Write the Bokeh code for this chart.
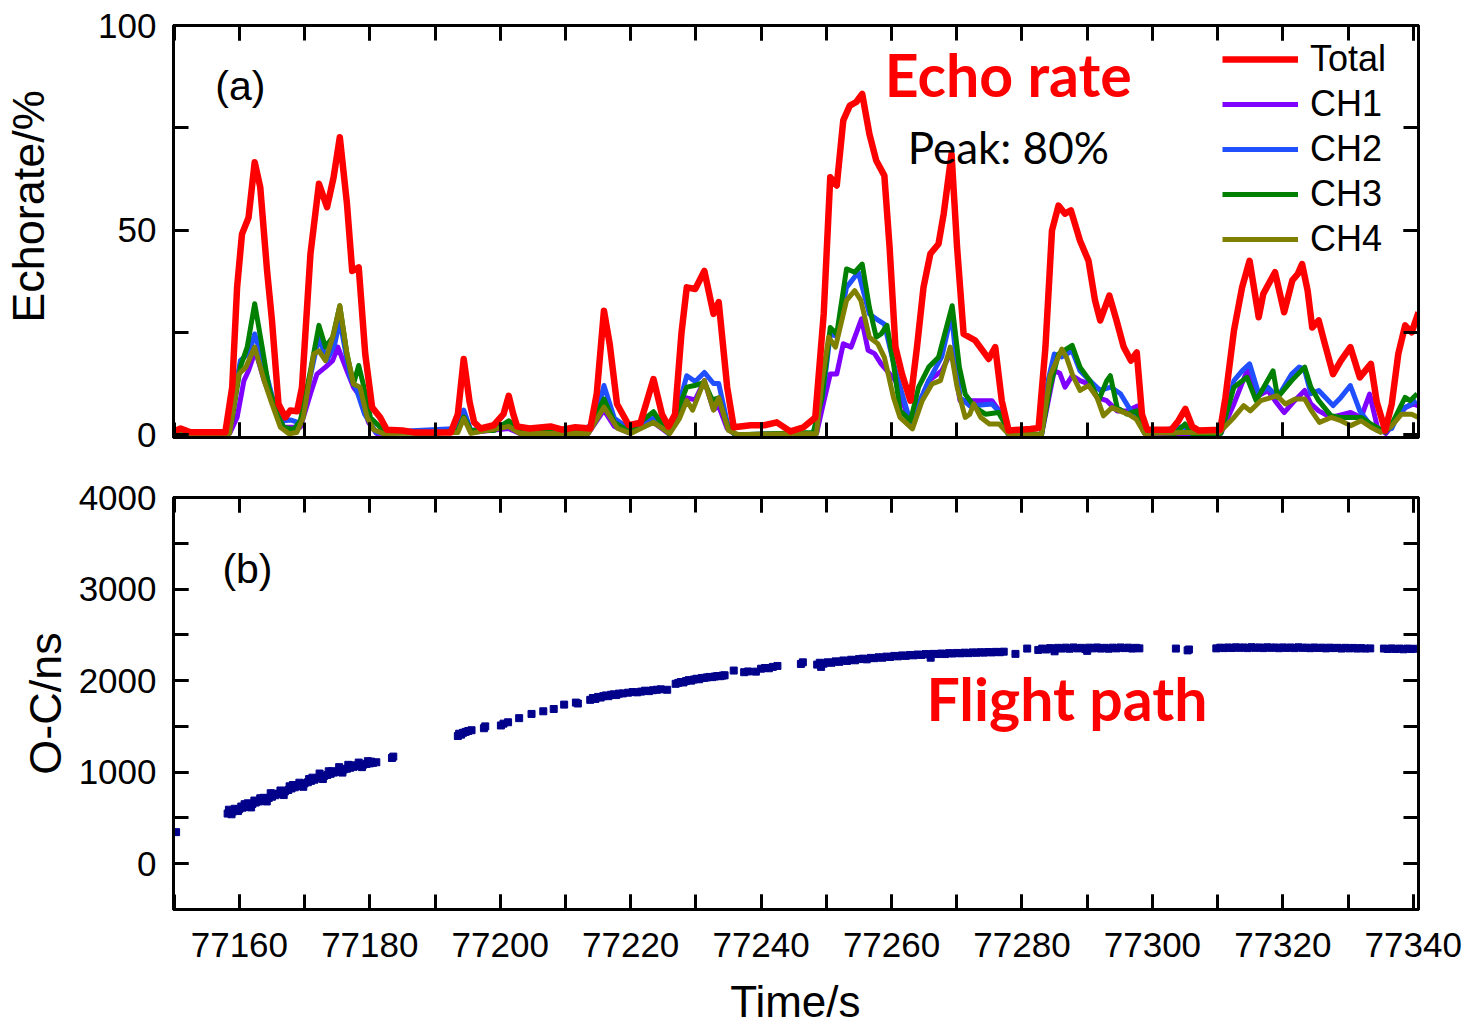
from bokeh.plotting import figure
from bokeh.models import (Range1d, LinearAxis, SingleIntervalTicker, Label, Legend, LegendItem,
                          CustomJSTickFormatter)
from bokeh.layouts import column
from bokeh.embed import file_html
from bokeh.resources import INLINE

# ---------------- data ----------------
# (time [s], echo rate [%]) pairs for each curve of panel (a)
total_pts = [
    (77150.0, 0.8), (77151.0, 1.5), (77152.5, 0.6), (77157.85, 0.6), (77158.9, 11.6), (77159.65, 36),
    (77160.4, 49), (77161.4, 53), (77162.35, 66.6), (77163.2, 60.5), (77164.25, 40), (77165.0, 27.9),
    (77166.0, 7.5), (77167.05, 4.2), (77167.8, 5.9), (77168.85, 5.7), (77169.6, 11.6), (77170.9, 44.2),
    (77172.2, 61.3), (77173.45, 55.6), (77174.45, 62.9), (77175.4, 72.7), (77176.5, 56.4), (77177.3, 40),
    (77178.3, 40.9), (77179.3, 19.7), (77180.35, 6.7), (77181.6, 4.2), (77182.6, 1.2), (77185.0, 1),
    (77187.0, 0.5), (77192.4, 0.5), (77193.5, 5), (77194.4, 18.5), (77195.3, 8), (77196.0, 3),
    (77197.0, 1.5), (77199.0, 2.3), (77200.5, 5), (77201.3, 9.5), (77202.0, 5), (77202.6, 2),
    (77204.5, 1.5), (77207.7, 2), (77209.5, 1.2), (77211.5, 1.8), (77213.8, 1.5), (77214.8, 10),
    (77215.9, 30.3), (77216.8, 22), (77217.9, 7.5), (77219.7, 2.3), (77221.5, 2.9), (77223.5, 13.6),
    (77224.8, 5), (77225.8, 2), (77226.8, 5), (77227.8, 25), (77228.6, 36), (77229.9, 35.6),
    (77231.3, 40), (77232.7, 29.5), (77233.5, 32.4), (77234.8, 11.6), (77235.8, 1.8), (77238.4, 2.3),
    (77240.5, 2.3), (77242.4, 3), (77244.5, 0.8), (77246.5, 1.8), (77248.3, 4.2), (77249.6, 29.5),
    (77250.6, 62.9), (77251.6, 60.9), (77252.6, 76.8), (77253.6, 80.4), (77254.6, 81.3), (77255.5, 83.3),
    (77256.6, 73.5), (77257.65, 67), (77258.9, 63.3), (77259.7, 45.8), (77260.6, 21.4), (77261.6, 14.8),
    (77262.9, 8.3), (77263.9, 21.4), (77264.9, 36), (77265.95, 44.2), (77267.2, 46.6), (77268.0, 54),
    (77269.2, 68.6), (77270.05, 45.8), (77271.05, 24.6), (77272.85, 23), (77274.9, 18.5), (77275.9, 21.4),
    (77276.9, 8.3), (77277.95, 1), (77281.3, 1.4), (77282.55, 1.6), (77283.6, 21.4), (77284.6, 49.9),
    (77285.6, 56), (77286.6, 54), (77287.5, 54.8), (77288.9, 47.4), (77290.2, 42.5), (77291.2, 32.8),
    (77292.0, 27.9), (77293.4, 34), (77294.5, 27.9), (77295.6, 21.4), (77296.7, 18.1), (77297.6, 20.1),
    (77298.4, 5), (77299.2, 1.2), (77302.9, 1.2), (77304.0, 3.4), (77305.05, 6.3), (77306.1, 2),
    (77307.1, 1), (77310.4, 1.2), (77311.2, 9.1), (77312.5, 25.4), (77313.75, 36), (77314.9, 42.5),
    (77316.3, 28.7), (77317.0, 34.4), (77318.8, 39.7), (77320.2, 29.9), (77321.45, 37.7), (77322.3, 39.3),
    (77322.95, 41.7), (77323.8, 35.2), (77324.5, 26.2), (77325.5, 27.9), (77326.3, 23), (77327.7, 14.8),
    (77328.9, 18.1), (77330.35, 21.4), (77331.8, 14), (77333.5, 17.3), (77334.4, 8), (77335.7, 1),
    (77336.7, 7.5), (77337.7, 19.7), (77338.75, 26.7), (77339.75, 25), (77340.8, 29.9)]

ch1_pts = [
    (77150, 0), (77158.5, 0.3), (77159.65, 4.2), (77160.7, 13.2), (77161.4, 15.6), (77162.45, 20.5),
    (77163.8, 13.2), (77165.2, 7.5), (77166.8, 1.8), (77169.35, 1.8), (77170.9, 10), (77171.9, 14.8),
    (77173.2, 16.5), (77174.3, 18.1), (77175.1, 21.4), (77176.5, 15.6), (77177.5, 11.6), (77178.6, 9.2),
    (77179.8, 3), (77181, 0.3), (77193.5, 1), (77194.4, 5), (77195.5, 0.5), (77201.3, 1.5),
    (77203, 0.3), (77213.5, 0.3), (77215.9, 6), (77217.5, 2), (77219.7, 0.5), (77223.5, 3),
    (77225.8, 0.3), (77228.6, 9), (77229.9, 8.5), (77231.3, 13.2), (77232.7, 6.1), (77233.5, 7),
    (77234.8, 1.5), (77236, 0), (77248.5, 0.3), (77249.6, 8), (77250.6, 14.8), (77251.6, 14.8),
    (77252.6, 22.2), (77253.8, 21.4), (77255.4, 28.3), (77256.4, 20.6), (77257.4, 19.8), (77258.4, 17.3),
    (77260.6, 13.2), (77262.9, 2.6), (77265.7, 13.2), (77267.7, 15.6), (77269.2, 20.5), (77270.5, 8.3),
    (77275.4, 8.3), (77276.9, 5), (77277.9, 0), (77283, 0), (77284.0, 8), (77284.95, 15.6),
    (77285.8, 15), (77286.6, 11.6), (77287.7, 14.4), (77288.9, 13.2), (77290.2, 12.4), (77291.5, 9.1),
    (77293.0, 8.3), (77294.6, 5.8), (77296.1, 5.8), (77297.7, 7), (77298.8, 0.3), (77310.5, 0.3),
    (77312.5, 7.5), (77314.5, 15.6), (77315.8, 9.1), (77317.7, 10.8), (77318.8, 8.3), (77320.2, 5.4),
    (77321.8, 8.3), (77323.35, 10.8), (77324.3, 7.5), (77325.5, 5.8), (77327.4, 4.2), (77330.4, 5.4),
    (77332.0, 4.2), (77333.3, 9.9), (77334.5, 1.8), (77335.8, 0.3), (77338.75, 6.6), (77340.0, 7.5),
    (77340.8, 7)]

ch2_pts = [
    (77150, 0), (77158, 0.5), (77159.5, 12), (77160.15, 18.1), (77161.5, 20), (77162.35, 24.6),
    (77163.6, 18.1), (77165.2, 8.3), (77166.8, 3.4), (77167.8, 3.6), (77169.35, 2.8), (77171.4, 18.1),
    (77172.2, 23.8), (77173.4, 18.1), (77174.6, 22), (77175.4, 27.9), (77177.0, 14), (77178.0, 10.8),
    (77179.2, 5), (77181, 0.5), (77193.5, 1.5), (77194.4, 6), (77195.5, 1), (77201.3, 2.5),
    (77203, 0.5), (77212, 0.3), (77214.5, 3), (77215.9, 12), (77217.5, 4), (77219.7, 1.5),
    (77223.5, 4), (77225.8, 0.5), (77227.5, 8), (77228.6, 14.4), (77229.9, 13), (77231.3, 15.2),
    (77232.7, 12.5), (77233.5, 12.5), (77234.8, 3), (77236, 0), (77248, 0.3), (77249.5, 10),
    (77250.6, 24.6), (77251.6, 24), (77253.1, 36), (77254.9, 39.7), (77256.6, 29.5), (77258.0, 27.9),
    (77258.9, 27), (77260.6, 15.6), (77262.9, 3), (77265.7, 13.2), (77267.7, 19), (77269.2, 29.5),
    (77270.5, 9.1), (77272.0, 7), (77275.4, 7.5), (77276.9, 5), (77277.9, 0), (77283, 0),
    (77284.0, 13.2), (77284.95, 19.7), (77286.1, 19), (77287.7, 20.5), (77288.9, 15.6), (77290.4, 13.2),
    (77292.0, 10.8), (77293.6, 11.6), (77295.1, 10), (77296.7, 5.8), (77297.7, 5), (77298.8, 0.3),
    (77304.8, 2), (77305.8, 0.3), (77310.5, 0.5), (77312.5, 13.2), (77313.75, 15.6), (77314.9, 17.3),
    (77316.3, 10), (77317.7, 11.6), (77319.2, 9.1), (77321.35, 14.8), (77322.5, 16.5), (77323.3, 16),
    (77324.3, 10), (77325.5, 10.8), (77327.7, 7.1), (77328.9, 9.1), (77330.35, 12), (77331.8, 5.8),
    (77333.3, 2.6), (77334.5, 1), (77336.7, 1.5), (77337.7, 5), (77338.75, 6.6), (77340.5, 8.3)]

ch3_pts = [
    (77150, 0), (77157.5, 0), (77158.8, 3), (77160.15, 16.5), (77161.2, 21.4), (77162.35, 32),
    (77163.5, 21.4), (77164.5, 11.6), (77165.8, 5), (77166.8, 1.8), (77168.3, 1.2), (77169.35, 3.4),
    (77170.9, 15.6), (77172.2, 26.7), (77173.2, 21.4), (77174.3, 23.8), (77175.4, 31.5), (77176.5, 19.7),
    (77177.5, 12.4), (77178.3, 16.9), (77179.1, 11.6), (77180.1, 4.2), (77181.6, 1.8), (77183, 0.5),
    (77190, 0.3), (77193.5, 1), (77194.4, 4.3), (77195.5, 1), (77199, 1), (77201.3, 3.4),
    (77203, 1), (77213.5, 1), (77215.9, 8.7), (77217.5, 3), (77219.7, 0.8), (77223.5, 5.6),
    (77225.8, 0.3), (77228.6, 11.6), (77229.8, 12), (77231.3, 12.8), (77232.5, 8.5), (77233.5, 9),
    (77234.8, 2.3), (77236.0, 0), (77248.0, 0.5), (77249.35, 9.1), (77250.6, 26.2), (77251.6, 24.6),
    (77253.1, 40.5), (77254.35, 39.7), (77255.5, 41.7), (77256.6, 31.1), (77257.65, 23.8), (77258.4, 24.6),
    (77259.3, 26.7), (77260.3, 17.3), (77261.3, 5.9), (77262.9, 3.4), (77264.15, 11.6), (77265.7, 16.5),
    (77267.2, 18.9), (77269.3, 31.5), (77270.4, 16.5), (77271.3, 9.9), (77272.85, 6.6), (77274.4, 5),
    (77276.4, 5.4), (77277.95, 1), (77283.0, 0), (77284.3, 11.6), (77285.6, 19.7), (77286.8, 20.9),
    (77287.7, 21.8), (77288.9, 16.5), (77290.4, 13.2), (77291.75, 8.3), (77293.0, 13.2), (77293.55, 14.4),
    (77294.6, 6.6), (77296.1, 5), (77297.6, 5.8), (77298.6, 0.8), (77303.5, 0.3), (77305.0, 2.6),
    (77306.0, 0.3), (77310.5, 0.3), (77312.5, 11.6), (77314.5, 14), (77315.9, 8.3), (77318.5, 15.6),
    (77319.2, 9.1), (77321.35, 13.2), (77323.35, 16.5), (77324.3, 11.6), (77325.5, 8.3), (77327.4, 4.6),
    (77328.9, 4.2), (77330.4, 4.2), (77332.0, 4.2), (77333.5, 2.6), (77335.7, 0.6), (77336.7, 2.6),
    (77338.75, 9.1), (77339.5, 8.3), (77340.6, 10)]

ch4_pts = [
    (77150, 0), (77158.5, 0.3), (77159.9, 14.8), (77161.0, 16.5), (77162.35, 21.4), (77163.8, 13.2),
    (77165.0, 7.5), (77166.3, 1.8), (77167.6, 0.2), (77168.8, 0.5), (77169.8, 4.2), (77171.4, 19.7),
    (77172.2, 20.5), (77173.2, 18.1), (77174.45, 24.6), (77175.4, 31.5), (77176.5, 19.7), (77177.5, 12.4),
    (77178.5, 11.6), (77179.6, 4.2), (77180.6, 1.2), (77182, 0.3), (77193.5, 0.5), (77194.4, 4),
    (77195.5, 0.3), (77201.3, 2), (77203, 0.3), (77213.5, 0.3), (77215.9, 6.7), (77218, 1.5),
    (77220, 0.3), (77223.5, 3), (77226, 0.3), (77227.5, 4), (77228.6, 8.3), (77229.5, 6),
    (77231.3, 13.2), (77232.7, 6), (77233.5, 9), (77235, 1), (77236.5, 0), (77248.5, 0.3),
    (77249.35, 13.2), (77250.35, 23.8), (77251.4, 21.4), (77253.1, 32.8), (77254.35, 35.2), (77255.3, 32.8),
    (77256.6, 23.8), (77257.9, 22.2), (77258.9, 18.9), (77260.3, 9.1), (77261.3, 4.2), (77263.2, 1.4),
    (77264.7, 8.3), (77266.2, 12.4), (77267.5, 13.2), (77269.0, 21.4), (77270.05, 11.6), (77271.3, 4.2),
    (77272.0, 5), (77272.6, 7.5), (77273.7, 4.2), (77275.0, 2.6), (77276.5, 2.6), (77278.0, 0),
    (77283, 0), (77284.3, 14.4), (77286.1, 20.9), (77286.8, 19), (77287.8, 14.4), (77288.9, 10.8),
    (77290.2, 12), (77291.5, 9.1), (77292.5, 4.6), (77293.8, 6.6), (77295.0, 5.8), (77296.3, 5),
    (77297.5, 3.8), (77298.8, 0.3), (77304.8, 0.5), (77310.3, 0.6), (77312.5, 4.2), (77314.0, 7.1),
    (77315.0, 5.8), (77316.6, 8.3), (77319.1, 9.5), (77320.4, 7.5), (77321.9, 8.7), (77323.35, 8.7),
    (77324.4, 5.8), (77325.6, 3), (77327.4, 4.2), (77328.9, 3.4), (77330.4, 2.2), (77332.0, 3.4),
    (77333.5, 1.8), (77335.0, 0.6), (77336.5, 1.8), (77338.2, 5), (77339.75, 5), (77340.8, 4.2)]

# panel (b): O-C (ns) against time (s)
oc_t = [77150.3,
        77158.2, 77158.6, 77159.0, 77159.5, 77160.0, 77160.5, 77161.0, 77161.5, 77162.0, 77162.5,
        77163.0, 77163.5, 77164.0, 77164.5, 77165.0, 77165.5, 77166.0, 77166.5, 77167.0, 77167.5,
        77168.0, 77168.5, 77169.0, 77169.5, 77170.0, 77170.5, 77171.0, 77171.5, 77172.0, 77172.5,
        77173.0, 77173.5, 77174.0, 77174.5, 77175.0, 77175.5, 77176.0, 77176.5, 77177.0, 77177.5,
        77178.0, 77178.5, 77179.0, 77179.5, 77180.0, 77180.5, 77181.0,
        77158.8, 77159.8, 77160.8, 77161.8, 77163.2, 77164.2, 77165.2, 77166.8, 77168.2, 77169.8,
        77171.2, 77172.8, 77174.2, 77175.8, 77177.2, 77178.8, 77180.2,
        77158.4, 77159.3, 77160.3, 77161.3, 77162.3, 77163.7, 77164.8, 77166.3, 77167.7, 77169.2,
        77170.7, 77172.3, 77173.7, 77175.3, 77176.7, 77178.3, 77179.7,
        77183.4, 77183.6,
        77193.5, 77193.7, 77194.0, 77194.3, 77194.7, 77195.1, 77195.6, 77197.5, 77197.7, 77200.1,
        77200.5, 77201.2, 77202.9, 77204.8, 77206.6, 77208.2, 77209.8, 77211.6, 77211.9,
        77213.8, 77214.2, 77214.6, 77215.0, 77215.4, 77215.8, 77216.2, 77216.6, 77217.0, 77217.4,
        77217.8, 77218.2, 77218.8, 77219.6, 77220.3, 77221.0, 77221.6, 77222.2, 77222.8, 77223.4,
        77224.0, 77224.6, 77225.6,
        77226.9, 77227.3, 77227.7, 77228.1, 77228.5, 77228.9, 77229.3, 77229.7, 77230.1, 77230.5,
        77230.9, 77231.3, 77231.7, 77232.1, 77232.5, 77232.9, 77233.3, 77233.7, 77234.1, 77234.4,
        77235.8, 77237.4, 77238.0, 77239.2, 77240.0, 77240.6, 77241.2, 77241.8, 77242.5, 77246.1,
        77246.4,
        77248.6, 77249.0, 77249.6, 77250.2, 77250.8, 77251.4, 77252.0, 77252.6, 77253.2, 77253.8,
        77254.4, 77255.0, 77255.6, 77256.2, 77256.8, 77257.4, 77258.0, 77258.6, 77259.2, 77259.8,
        77260.4, 77261.0, 77261.6, 77262.2, 77262.8, 77263.4, 77264.0, 77264.6, 77265.2, 77265.8,
        77266.4, 77267.0, 77267.6, 77268.2, 77268.8, 77269.4, 77270.0, 77270.6, 77271.2, 77271.8,
        77272.4, 77273.0, 77273.6, 77274.2, 77274.8, 77275.4, 77276.0, 77276.6, 77277.2,
        77249.2, 77266.0, 77279.0, 77280.8,
        77282.5, 77283.1, 77283.7, 77284.3, 77284.9, 77285.5, 77286.1, 77286.7, 77287.3, 77287.9,
        77288.5, 77289.1, 77289.7, 77290.3, 77290.9, 77291.5, 77292.1, 77292.7, 77293.3, 77293.9,
        77294.5, 77295.1, 77295.7, 77296.3, 77296.9, 77297.5, 77298.0, 77285.0, 77290.0,
        77303.6, 77305.4, 77305.6,
        77309.8, 77310.4, 77311.0, 77311.6, 77312.2, 77312.8, 77313.4, 77314.0, 77314.6, 77315.2,
        77315.8, 77316.4, 77317.0, 77317.6, 77318.2, 77318.8, 77319.4, 77320.0, 77320.6, 77321.2,
        77321.8, 77322.4, 77323.0, 77323.6, 77324.2, 77324.8, 77325.4, 77326.0, 77326.6, 77327.2,
        77327.8, 77328.4, 77329.0, 77329.6, 77330.2, 77330.8, 77331.4, 77332.0, 77332.6, 77333.4,
        77335.5, 77336.1, 77336.7, 77337.3, 77337.9, 77338.5, 77339.1, 77339.7, 77340.2]
oc_v = [345,
        548, 562, 570, 585, 598, 612, 622, 640, 652, 668,
        680, 690, 705, 718, 732, 748, 760, 775, 790, 805,
        822, 835, 850, 862, 878, 890, 905, 918, 932, 945,
        958, 970, 982, 995, 1005, 1015, 1028, 1038, 1048, 1058,
        1066, 1075, 1082, 1090, 1096, 1102, 1108,
        540, 575, 650, 615, 715, 680, 765, 750, 860, 840,
        940, 925, 1010, 995, 1075, 1055, 1115,
        590, 600, 625, 660, 690, 720, 770, 800, 845, 885,
        925, 985, 1010, 1055, 1080, 1105, 1120,
        1155, 1170,
        1395, 1420, 1410, 1430, 1440, 1450, 1458, 1480, 1500, 1510,
        1530, 1545, 1590, 1636, 1665, 1690, 1738, 1760, 1750,
        1790, 1810, 1800, 1822, 1815, 1830, 1838, 1830, 1845, 1850,
        1842, 1858, 1860, 1868, 1875, 1872, 1880, 1890, 1885, 1895,
        1900, 1905, 1900,
        1965, 1975, 1985, 1980, 1995, 2005, 2000, 2012, 2020, 2015,
        2028, 2030, 2035, 2040, 2038, 2045, 2050, 2048, 2055, 2058,
        2110, 2092, 2100, 2098, 2130, 2138, 2135, 2150, 2160, 2182,
        2200,
        2175, 2195, 2185, 2200, 2195, 2210, 2205, 2220, 2215, 2228,
        2222, 2235, 2240, 2232, 2248, 2245, 2255, 2250, 2262, 2258,
        2270, 2265, 2275, 2270, 2280, 2276, 2285, 2280, 2290, 2286,
        2292, 2290, 2296, 2290, 2300, 2296, 2302, 2298, 2305, 2300,
        2308, 2304, 2310, 2306, 2312, 2308, 2314, 2310, 2316,
        2150, 2250, 2292, 2350,
        2335, 2350, 2340, 2355, 2345, 2358, 2350, 2360, 2348, 2362,
        2352, 2358, 2345, 2360, 2352, 2362, 2350, 2358, 2348, 2360,
        2352, 2362, 2355, 2360, 2350, 2358, 2352, 2320, 2325,
        2350, 2330, 2340,
        2352, 2360, 2355, 2362, 2356, 2364, 2358, 2362, 2355, 2365,
        2358, 2362, 2355, 2364, 2358, 2362, 2354, 2363, 2357, 2362,
        2355, 2364, 2358, 2360, 2354, 2362, 2356, 2360, 2352, 2360,
        2355, 2358, 2350, 2358, 2352, 2357, 2350, 2355, 2350, 2352,
        2350, 2345, 2352, 2345, 2350, 2342, 2350, 2345, 2348]

series_names = ["Total", "CH1", "CH2", "CH3", "CH4"]
series_colors = ["#FF0000", "#7F00FF", "#1F4FFF", "#008000", "#808000"]
series_pts = {"Total": total_pts, "CH1": ch1_pts, "CH2": ch2_pts, "CH3": ch3_pts, "CH4": ch4_pts}

# ---------------- styling ----------------
FONT = "Liberation Sans"
X0, X1 = 77149.9, 77340.8
blank = CustomJSTickFormatter(code="return ''")


def style_axis(ax, labels=True, size="35px"):
    ax.axis_line_width = 3
    ax.axis_line_color = "black"
    ax.major_tick_in = 15
    ax.major_tick_out = 0
    ax.minor_tick_in = 15
    ax.minor_tick_out = 0
    ax.major_tick_line_width = 3
    ax.minor_tick_line_width = 3
    ax.major_tick_line_color = "black"
    ax.minor_tick_line_color = "black"
    ax.major_label_text_font = FONT
    ax.major_label_text_color = "black"
    if labels:
        ax.major_label_text_font_size = size
    else:
        ax.formatter = blank
        ax.major_label_text_font_size = "2px"
        ax.major_label_standoff = 0
    ax.axis_label_text_font = FONT
    ax.axis_label_text_font_style = "normal"
    ax.axis_label_text_color = "black"
    ax.axis_label_text_font_size = "45px"


x_range = Range1d(X0, X1)

# ---------------- panel (a) ----------------
p1 = figure(width=1464, height=467, x_range=x_range, y_range=Range1d(-0.7, 100),
            output_backend="svg", toolbar_location=None,
            min_border_left=173, min_border_right=46, min_border_top=25, min_border_bottom=30)
p1.xgrid.visible = False
p1.ygrid.visible = False
p1.outline_line_color = "black"
p1.outline_line_width = 3

xt1 = SingleIntervalTicker(interval=20, num_minor_ticks=2)
yt1 = SingleIntervalTicker(interval=50, num_minor_ticks=2)
p1.xaxis.ticker = xt1
p1.yaxis.ticker = yt1
style_axis(p1.xaxis[0], labels=False)
style_axis(p1.yaxis[0])
p1.yaxis[0].axis_label = "\u00a0\u00a0\u00a0\u00a0Echorate/%"
p1.yaxis[0].major_label_standoff = 17
p1.yaxis[0].axis_label_standoff = 41
ax_top = LinearAxis(ticker=xt1)
style_axis(ax_top, labels=False)
p1.add_layout(ax_top, "above")
ax_right = LinearAxis(ticker=yt1)
style_axis(ax_right, labels=False)
p1.add_layout(ax_right, "right")

rends = {}
for name, color in list(zip(series_names, series_colors))[1:] + [(series_names[0], series_colors[0])]:
    pts = series_pts[name]
    rends[name] = p1.line([p[0] for p in pts], [p[1] for p in pts], line_color=color,
                          line_width=6.5 if name == "Total" else 5, line_join="round")

legend = Legend(items=[LegendItem(label=n, renderers=[rends[n]]) for n in series_names],
                location=(1044, 172), background_fill_alpha=0, border_line_alpha=0,
                label_text_font=FONT, label_text_font_size="36px", label_text_color="black",
                glyph_width=76, glyph_height=40, label_height=40, label_standoff=12,
                spacing=3, padding=5, margin=0)
p1.add_layout(legend)

p1.add_layout(Label(x=77156.3, y=85.3, text="(a)", text_font=FONT, text_font_size="41px",
                    text_baseline="middle", text_align="left", text_color="black"))
p1.add_layout(Label(x=77277.9, y=88.0, text="Echo rate", text_font="Lato", text_font_style="bold",
                    text_font_size="59px", text_baseline="middle", text_align="center",
                    text_color="#FF0000"))
p1.add_layout(Label(x=77277.9, y=70.2, text="Peak: 80%", text_font="Lato",
                    text_font_size="44px", text_baseline="middle", text_align="center",
                    text_color="black"))

# ---------------- panel (b) ----------------
p2 = figure(width=1464, height=507, x_range=x_range, y_range=Range1d(-500, 4000),
            output_backend="svg", toolbar_location=None,
            min_border_left=173, min_border_right=46, min_border_top=30, min_border_bottom=65)
p2.xgrid.visible = False
p2.ygrid.visible = False
p2.outline_line_color = "black"
p2.outline_line_width = 3

xt2 = SingleIntervalTicker(interval=20, num_minor_ticks=2)
yt2 = SingleIntervalTicker(interval=1000, num_minor_ticks=2)
p2.xaxis.ticker = xt2
p2.yaxis.ticker = yt2
style_axis(p2.xaxis[0])
style_axis(p2.yaxis[0])
p2.xaxis[0].major_label_standoff = 23
p2.yaxis[0].axis_label = "O-C/ns"
p2.yaxis[0].major_label_standoff = 17
p2.yaxis[0].axis_label_standoff = 5
ax_top2 = LinearAxis(ticker=xt2)
style_axis(ax_top2, labels=False)
p2.add_layout(ax_top2, "above")
ax_right2 = LinearAxis(ticker=yt2)
style_axis(ax_right2, labels=False)
p2.add_layout(ax_right2, "right")

p2.scatter(oc_t, oc_v, marker="square", size=7, fill_color="#00008B", line_color="#00008B")

p2.add_layout(Label(x=77157.4, y=3224, text="(b)", text_font=FONT, text_font_size="41px",
                    text_baseline="middle", text_align="left", text_color="black"))
p2.add_layout(Label(x=77286.9, y=1809, text="Flight path", text_font="Lato", text_font_style="bold",
                    text_font_size="59px", text_baseline="middle", text_align="center",
                    text_color="#FF0000"))

# ---------------- x-axis title strip ----------------
p3 = figure(width=1464, height=52, x_range=x_range, y_range=Range1d(0, 52), title=None,
            output_backend="svg", toolbar_location=None,
            min_border_left=173, min_border_right=46, min_border_top=0, min_border_bottom=0)
p3.axis.visible = False
p3.xgrid.visible = False
p3.ygrid.visible = False
p3.outline_line_color = None
p3.add_layout(Label(x=77245.25, y=25, text="Time/s", text_font=FONT, text_font_size="44px",
                    text_baseline="alphabetic", text_align="center", text_color="black"))

layout = column(p1, p2, p3, spacing=0)
open("out.html", "w").write(file_html(layout, INLINE))
